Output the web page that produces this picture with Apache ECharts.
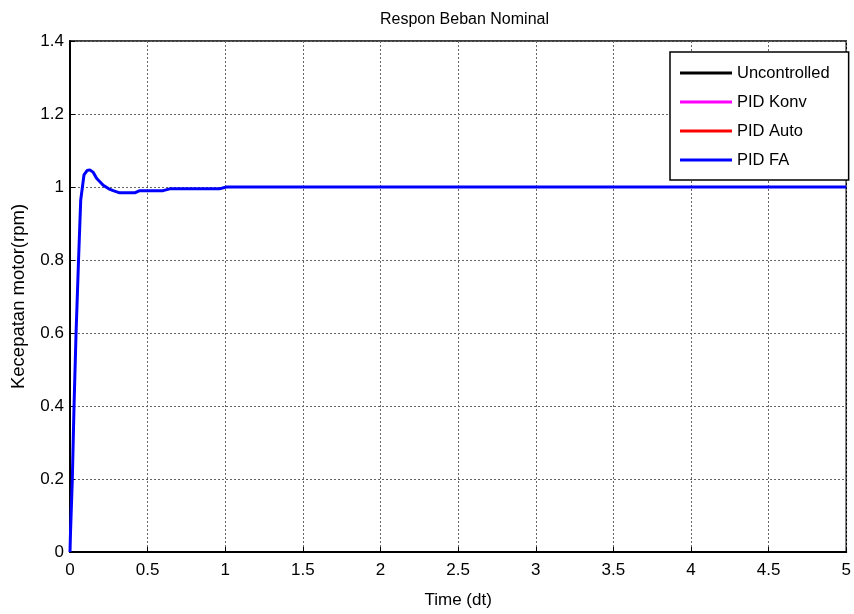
<!DOCTYPE html>
<html><head><meta charset="utf-8">
<script src="https://cdn.jsdelivr.net/npm/echarts@6/dist/echarts.min.js"></script>
<style>html,body{margin:0;padding:0;background:#fff}#c{width:854px;height:614px}</style>
</head><body><div id="c"></div>
<script>
const seriesNames = ['Uncontrolled', 'PID Konv', 'PID Auto', 'PID FA'];
const seriesColors = ['#000000', '#ff00ff', '#ff0000', '#0000ff'];
const timeFA = [0, 0.003, 0.015, 0.026, 0.039, 0.055, 0.069, 0.09, 0.11, 0.128, 0.15, 0.171, 0.214, 0.25, 0.278, 0.32, 0.417, 0.449, 0.6, 0.642, 0.963, 1.006, 5];
const valFA  = [0, 0.05, 0.2, 0.4, 0.6, 0.8, 0.964, 1.033, 1.045, 1.047, 1.04, 1.024, 1.005, 0.995, 0.99, 0.984, 0.984, 0.99, 0.99, 0.995, 0.995, 1.0, 1.0];
const valUncontrolled = [];
const valKonv = [];
const valAuto = [];
const xTicks = [0, 0.5, 1, 1.5, 2, 2.5, 3, 3.5, 4, 4.5, 5];
const yTicks = [0, 0.2, 0.4, 0.6, 0.8, 1, 1.2, 1.4];

const pairs = (t, v) => t.map((x, i) => [x, v[i]]);
const dataSets = [valUncontrolled, valKonv, valAuto, pairs(timeFA, valFA)];

const fontMain = '"Liberation Sans", Arial, sans-serif';
const chart = echarts.init(document.getElementById('c'));
chart.setOption({
  animation: false,
  backgroundColor: '#fff',
  title: {
    text: 'Respon Beban Nominal', left: 459.5, top: 7, textAlign: 'center',
    textStyle: { fontFamily: fontMain, fontSize: 16, fontWeight: 'normal', color: '#000' }
  },
  grid: { left: 70, right: 5, top: 41, bottom: 62, show: true, borderColor: '#000', borderWidth: 1.5, backgroundColor: '#fff' },
  legend: {
    orient: 'vertical', left: 670, top: 52,
    data: seriesNames, icon: 'rect',
    backgroundColor: '#fff', borderColor: '#000', borderWidth: 1.5, borderRadius: 0,
    padding: [12, 19, 11, 10], itemGap: 11, itemWidth: 52, itemHeight: 3,
    textStyle: { fontFamily: fontMain, fontSize: 16.5, color: '#000', lineHeight: 18 }
  },
  xAxis: {
    type: 'value', min: 0, max: 5, interval: 0.5,
    name: 'Time (dt)', nameLocation: 'middle', nameGap: 40,
    nameTextStyle: { fontFamily: fontMain, fontSize: 17, color: '#000' },
    axisLine: { show: true, onZero: false, lineStyle: { color: '#000', width: 2 } },
    axisTick: { show: true, inside: true, length: 5, lineStyle: { color: '#000' } },
    axisLabel: { fontFamily: fontMain, fontSize: 17, color: '#000', margin: 10,
      formatter: v => xTicks.includes(v) ? String(v) : '' },
    splitLine: { show: true, lineStyle: { color: '#666', type: [2, 2], width: 1 } }
  },
  yAxis: {
    type: 'value', min: 0, max: 1.4, interval: 0.2,
    name: 'Kecepatan motor(rpm)', nameLocation: 'middle', nameGap: 42,
    nameTextStyle: { fontFamily: fontMain, fontSize: 18.5, color: '#000' },
    axisLine: { show: true, onZero: false, lineStyle: { color: '#000', width: 2 } },
    axisTick: { show: true, inside: true, length: 5, lineStyle: { color: '#000' } },
    axisLabel: { fontFamily: fontMain, fontSize: 17, color: '#000', margin: 6,
      formatter: v => { const r = Math.round(v * 10) / 10; return yTicks.includes(r) ? String(r) : ''; } },
    splitLine: { show: true, lineStyle: { color: '#666', type: [2, 2], width: 1 } }
  },
  series: seriesNames.map((n, i) => ({
    name: n, type: 'line', data: dataSets[i], symbol: 'none', smooth: false,
    lineStyle: { color: seriesColors[i], width: 3 }, itemStyle: { color: seriesColors[i] }
  }))
});
</script></body></html>
